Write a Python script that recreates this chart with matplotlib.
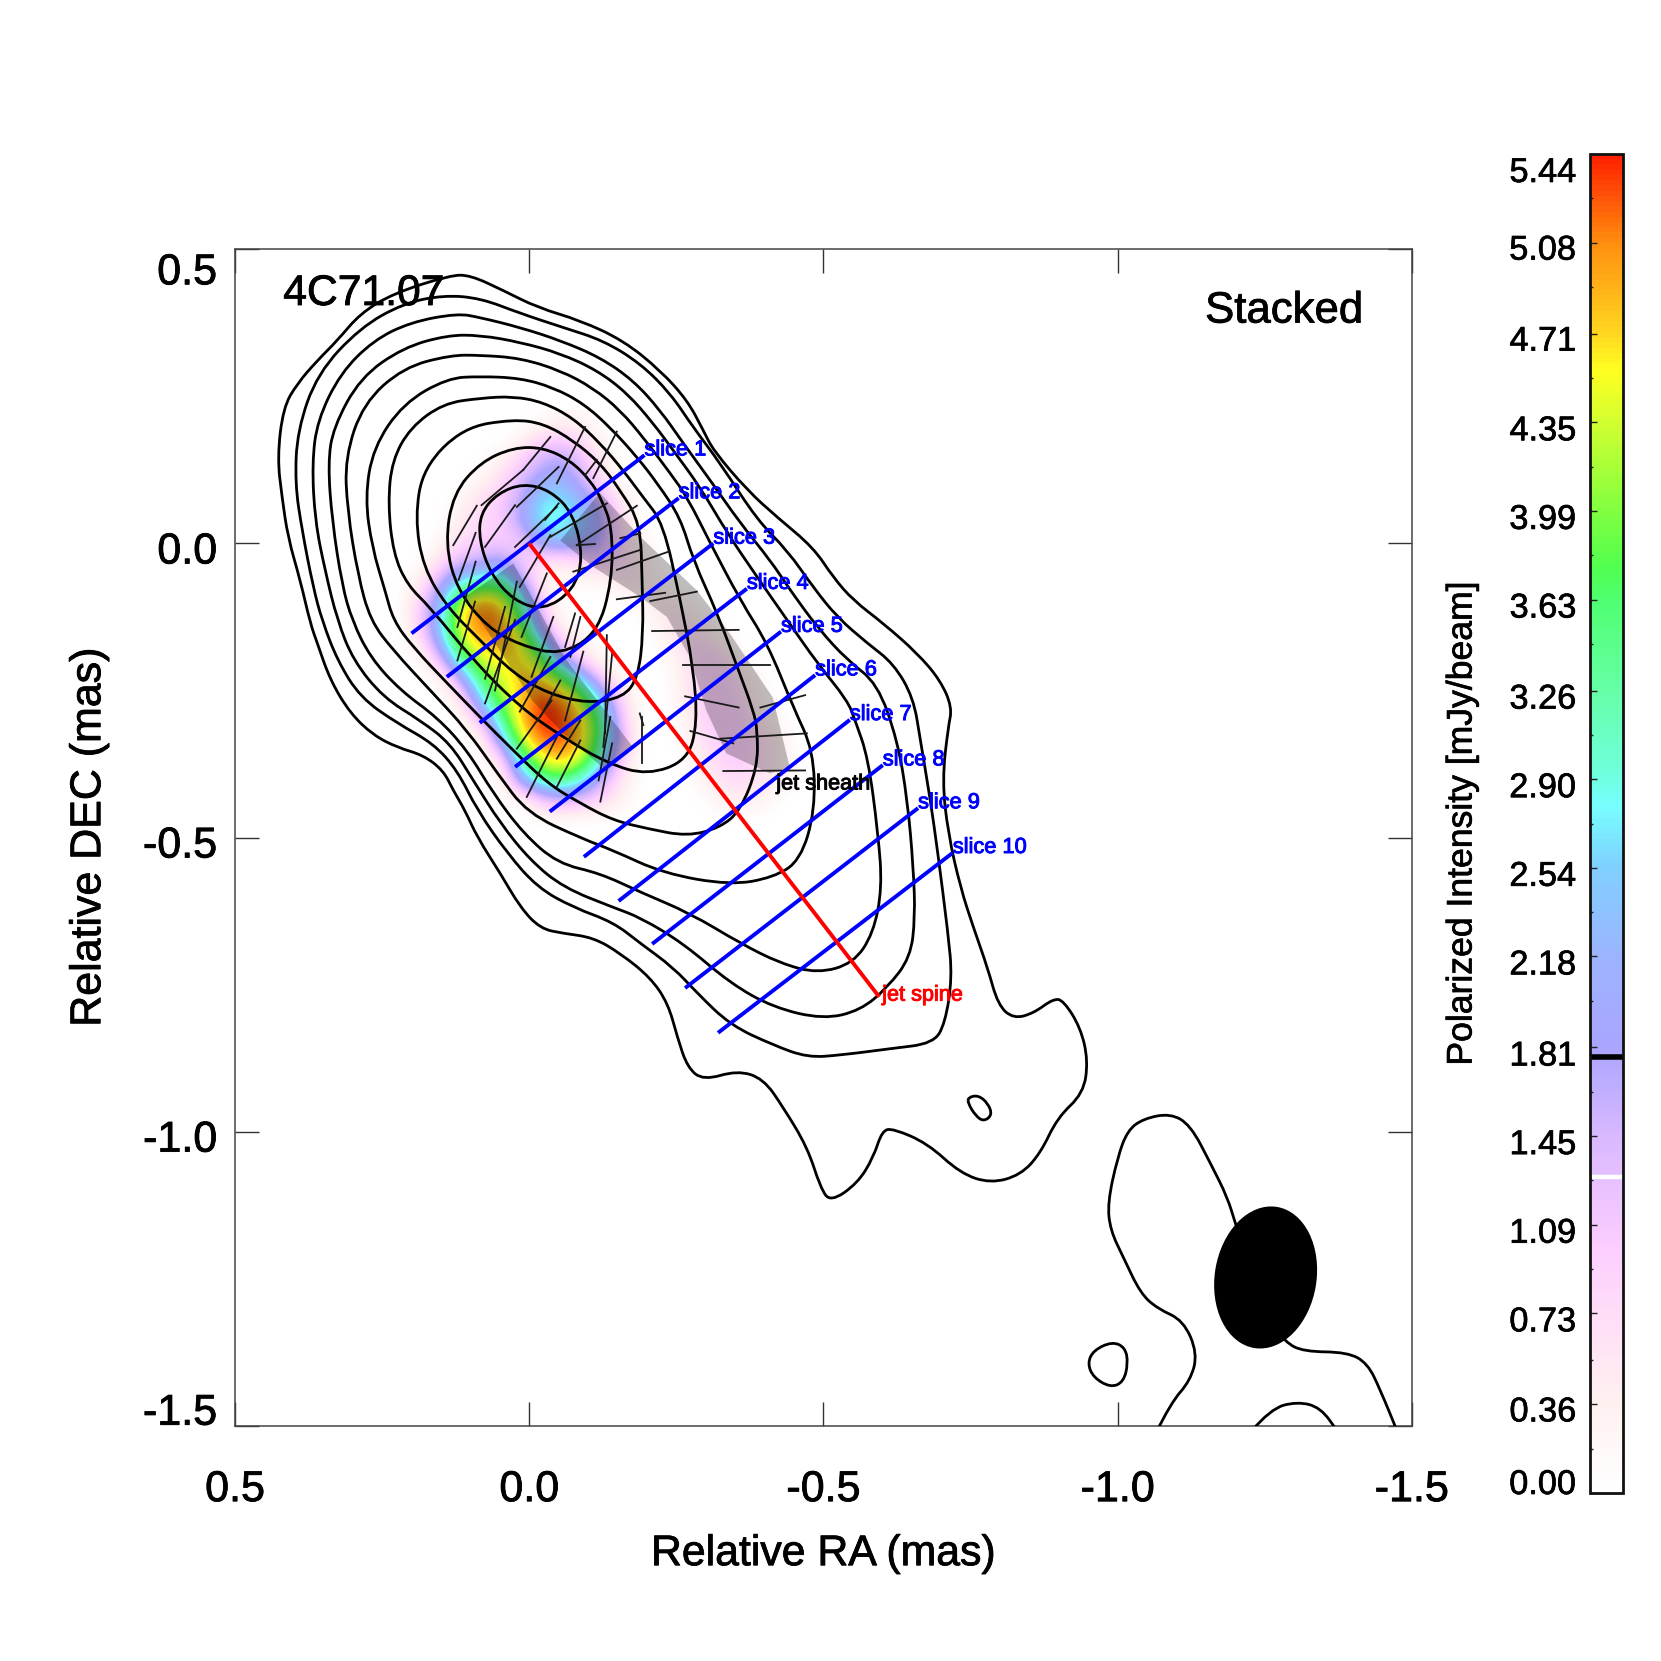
import numpy as np
import matplotlib
matplotlib.use("Agg")
import matplotlib.pyplot as plt
import matplotlib.patheffects as pe
from matplotlib.cm import ScalarMappable
from matplotlib.colors import LinearSegmentedColormap, Normalize
from matplotlib.patches import Ellipse, PathPatch, Polygon
from matplotlib.path import Path
from matplotlib.transforms import ScaledTranslation

plt.rcParams['font.family'] = ['Liberation Sans', 'DejaVu Sans']

# total intensity contours, relative RA / DEC in mas
contour_1 = [(.134,.456),(.231,.425),(.287,.391),(.326,.345),(.360,.311),(.394,.272),(.418,.231),(.428,.146),(.420,.078),(.410,.010),
    (.389,-.063),(.372,-.136),(.360,-.170),(.338,-.233),(.304,-.289),(.265,-.326),(.224,-.347),(.180,-.360),(.146,-.386),(.129,-.420),
    (.109,-.454),(.088,-.500),(.049,-.561),(.015,-.619),(-.019,-.655),(-.058,-.663),(-.109,-.670),(-.155,-.697),(-.206,-.738),(-.236,-.782),
    (-.252,-.840),(-.269,-.891),(-.296,-.913),(-.354,-.896),(-.398,-.910),(-.432,-.959),(-.473,-1.027),(-.495,-1.095),(-.512,-1.120),(-.558,-1.088),
    (-.585,-1.044),(-.600,-.998),(-.619,-.995),(-.677,-1.020),(-.733,-1.071),(-.784,-1.088),(-.835,-1.074),(-.869,-1.037),(-.898,-.976),(-.942,-.935),
    (-.950,-.879),(-.937,-.823),(-.908,-.777),(-.891,-.774),(-.857,-.799),(-.823,-.808),(-.797,-.785),(-.779,-.721),(-.755,-.653),(-.733,-.585),
    (-.712,-.493),(-.702,-.403),(-.712,-.313),(-.719,-.279),(-.699,-.233),(-.660,-.187),(-.602,-.136),(-.551,-.097),(-.517,-.058),(-.483,-.007),
    (-.422,.044),(-.371,.090),(-.313,.158),(-.296,.192),(-.269,.243),(-.223,.294),(-.160,.345),(-.087,.379),(-.014,.401),(.044,.430),(.100,.456)]
contour_2 = [(.146,.422),(.214,.408),(.287,.367),(.360,.289),(.394,.192),(.398,.102),(.386,.022),(.367,-.075),(.352,-.131),(.326,-.199),
    (.287,-.262),(.224,-.306),(.163,-.340),(.122,-.386),(.088,-.454),(.037,-.527),(-.014,-.585),(-.075,-.619),(-.143,-.644),(-.189,-.680),
    (-.245,-.721),(-.286,-.765),(-.342,-.819),(-.415,-.853),(-.473,-.874),(-.529,-.870),(-.614,-.859),(-.687,-.850),(-.707,-.816),(-.719,-.738),
    (-.712,-.663),(-.694,-.522),(-.682,-.437),(-.665,-.335),(-.653,-.262),(-.619,-.204),(-.575,-.170),(-.524,-.126),(-.483,-.075),(-.439,-.012),
    (-.388,.039),(-.325,.136),(-.279,.197),(-.240,.255),(-.189,.306),(-.126,.345),(-.058,.367),(.015,.391),(.083,.417)]
contour_3 = [(.122,.391),(.202,.376),(.265,.345),(.321,.289),(.360,.209),(.369,.136),(.364,.039),(.347,-.046),(.326,-.131),
    (.299,-.199),(.248,-.262),(.185,-.301),(.134,-.340),(.095,-.403),(.049,-.476),(-.002,-.539),(-.058,-.585),(-.143,-.619),(-.189,-.636),
    (-.262,-.680),(-.342,-.748),(-.415,-.789),(-.500,-.809),(-.563,-.794),(-.609,-.755),(-.648,-.704),(-.656,-.636),(-.653,-.551),(-.643,-.437),
    (-.626,-.335),(-.592,-.238),(-.541,-.199),(-.490,-.143),(-.444,-.080),(-.410,-.029),(-.359,.034),(-.308,.107),(-.262,.170),(-.223,.226),
    (-.177,.277),(-.121,.316),(-.053,.345),(.015,.367),(.083,.384)]
contour_4 = [(.139,.354),(.214,.333),(.287,.282),(.333,.197),(.342,.136),(.335,.039),(.318,-.071),(.301,-.131),(.270,-.194),
    (.219,-.250),(.156,-.296),(.105,-.352),(.061,-.425),(.010,-.493),(-.048,-.544),(-.121,-.561),(-.189,-.593),(-.274,-.629),(-.359,-.680),
    (-.427,-.714),(-.490,-.731),(-.551,-.714),(-.585,-.663),(-.600,-.585),(-.593,-.493),(-.576,-.364),(-.554,-.301),(-.541,-.267),(-.490,-.204),
    (-.439,-.131),(-.388,-.058),(-.337,.017),(-.291,.095),(-.245,.158),(-.211,.204),(-.167,.255),(-.116,.294),(-.053,.323),(.015,.342),(.083,.354)]
contour_5 = [(.134,.320),(.214,.299),(.282,.238),(.313,.146),(.309,.056),(.291,-.054),(.270,-.131),(.231,-.182),(.168,-.250),
    (.105,-.318),(.054,-.391),(.003,-.459),(-.090,-.502),(-.143,-.522),(-.228,-.561),(-.342,-.581),(-.415,-.568),(-.461,-.539),(-.486,-.454),
    (-.483,-.352),(-.449,-.279),(-.405,-.170),(-.359,-.097),(-.308,0.0),(-.269,.078),(-.240,.119),(-.194,.180),(-.155,.226),(-.109,.264),
    (-.053,.294),(.015,.315),(.083,.320)]
contour_6 = [(.139,.281),(.214,.238),(.265,.163),(.279,.078),(.267,-.007),(.245,-.080),(.231,-.131),(.197,-.177),(.139,-.238),
    (.083,-.296),(.027,-.352),(-.031,-.408),(-.087,-.442),(-.143,-.471),(-.201,-.485),(-.269,-.498),(-.325,-.483),(-.359,-.454),(-.388,-.381),
    (-.388,-.318),(-.381,-.284),(-.354,-.211),(-.320,-.119),(-.279,-.029),(-.257,.044),(-.218,.102),(-.184,.146),(-.138,.197),(-.092,.238),
    (-.041,.265),(.015,.281),(.083,.284)]
contour_7 = [(.027,.250),(.083,.247),(.146,.238),(.202,.197),(.233,.141),(.240,.068),(.231,-.017),(.207,-.071),(.168,-.109),(.095,-.199),(.015,-.279),
    (-.058,-.330),(-.133,-.374),(-.201,-.394),(-.269,-.369),(-.286,-.306),(-.279,-.211),(-.257,-.097),(-.228,.034),(-.194,.078),(-.160,.124),
    (-.121,.170),(-.075,.213),(-.024,.240)]
contour_8 = [(.027,.211),(.112,.197),(.180,.129),(.194,.044),(.180,-.041),(.139,-.109),(.083,-.165),(.027,-.221),(-.031,-.255),(-.099,-.272),
    (-.160,-.262),(-.185,-.228),(-.194,-.153),(-.192,-.065),(-.189,.034),(-.155,.090),(-.121,.136),(-.075,.175),(-.024,.204)]
contour_9 = [(.027,.163),(-.024,.163),(-.070,.141),(-.104,.107),(-.124,.073),(-.141,.027),(-.141,-.063),(-.116,-.153),(-.053,-.190),(.015,-.173),
    (.071,-.143),(.122,-.080),(.143,0.0),(.129,.085),(.083,.138)]
contour_10 = [(.010,.102),(-.036,.090),(-.075,.051),(-.092,-.024),(-.075,-.080),(-.024,-.114),(.027,-.097),(.066,-.051),(.085,.005),(.083,.051),(.054,.085)]
contour_oval = [(-.746,-.942),(-.763,-.938),(-.780,-.952),(-.787,-.972),(-.772,-.983),(-.758,-.972),(-.746,-.952)]
contour_ring = [(-.991,-1.357),(-1.013,-1.367),(-1.018,-1.394),(-1.010,-1.426),(-.988,-1.435),(-.959,-1.418),(-.949,-1.394),(-.959,-1.372)]
contour_tail = [(-1.066,-1.511),(-1.090,-1.462),(-1.124,-1.423),(-1.136,-1.377),(-1.112,-1.321),(-1.068,-1.301),(-1.039,-1.275),(-1.010,-1.214),
    (-.988,-1.168),(-.983,-1.122),(-1.000,-1.044),(-1.017,-.998),(-1.044,-.978),(-1.090,-.969),(-1.124,-.989),(-1.158,-1.054),(-1.187,-1.112),
    (-1.200,-1.156),(-1.226,-1.231),(-1.255,-1.316),(-1.285,-1.358),(-1.316,-1.374),(-1.391,-1.375),(-1.425,-1.394),(-1.447,-1.440),(-1.476,-1.511)]
contour_arc = [(-1.226,-1.511),(-1.260,-1.471),(-1.306,-1.459),(-1.345,-1.469),(-1.375,-1.511)]

closed_contours = [contour_1, contour_2, contour_3, contour_4, contour_5, contour_6, contour_7, contour_8, contour_9, contour_10, contour_oval, contour_ring]
open_contours = [contour_tail, contour_arc]

# polarization direction sticks: x0, y0, x1, y1
evpa_sticks = [(.129,-.003,.089,.064),(.081,.065,.010,.125),(.010,.125,-.036,.181),(-.047,.102,-.095,.198),(-.109,.111,-.149,.190),(-.095,.116,-.115,.142),
    (.075,-.006,.024,.065),(.021,.062,-.050,.130),(.024,-.006,-.047,.062),(-.027,.040,-.050,.068),(.016,-.074,-.036,.014),(-.036,.011,-.132,.068),
    (-.081,-.003,-.183,.064),(-.081,-.003,-.112,-.001),(-.155,.009,-.189,.017),(-.075,-.048,-.189,-.011),(-.149,-.045,-.237,-.014),(-.149,-.095,-.231,-.084),
    (-.206,-.098,-.285,-.082),(-.209,-.149,-.356,-.147),(-.262,-.206,-.410,-.206),(-.265,-.260,-.356,-.279),(-.393,-.279,-.469,-.258),(-.274,-.319,-.347,-.340),
    (-.325,-.332,-.472,-.323),(-.330,-.387,-.469,-.386),(.120,-.062,.091,.018),(.122,-.142,.091,-.031),(.122,-.199,.092,-.099),(.075,-.230,.041,-.108),
    (.075,-.272,.024,-.130),(.058,-.250,.021,-.065),(.013,-.159,-.030,-.051),(-.004,-.227,-.041,-.125),(.016,-.286,-.036,-.193),(.021,-.349,-.038,-.267),
    (.004,-.431,-.047,-.329),(-.047,-.414,-.087,-.335),(-.047,-.366,-.087,-.301),(-.019,-.295,-.053,-.233),(-.061,-.301,-.092,-.184),(-.070,-.193,-.087,-.125),
    (-.061,-.176,-.078,-.119),(-.121,-.439,-.141,-.340),(-.118,-.403,-.138,-.295),(-.126,-.346,-.141,-.187),(-.129,-.323,-.132,-.156),(-.192,-.374,-.192,-.295),
    (-.188,-.289,-.194,-.309)]

# blue slices across the jet: start x, start y, end x, end y
slice_names = ['slice 1','slice 2','slice 3','slice 4','slice 5','slice 6','slice 7','slice 8','slice 9','slice 10']
slice_x0 = [.200,.140,.084,.024,-.035,-.093,-.152,-.209,-.265,-.321]
slice_y0 = [-.153,-.227,-.305,-.380,-.456,-.533,-.608,-.681,-.756,-.832]
slice_x1 = [-.196,-.254,-.313,-.370,-.428,-.486,-.545,-.601,-.661,-.720]
slice_y1 = [.150,.077,.000,-.077,-.150,-.224,-.300,-.377,-.450,-.526]
spine_x = [0.0,-.595]
spine_y = [0.0,-.771]

# polarized intensity in mJy/beam, read on a coarse grid
pol_extent = (.2366,-.4774,-.4872,.2268)
pol_rows = [
    [0,0,0,0,0,0,0,0,.3,.2,0,0,0,0,0,0,0,0,0,0,0],
    [0,0,0,0,0,0,.2,.9,1.0,.8,.2,0,0,0,0,0,0,0,0,0,0],
    [0,0,0,0,0,.3,.9,1.5,1.8,1.3,.5,0,0,0,0,0,0,0,0,0,0],
    [0,0,0,0,.2,.7,1.4,2.0,2.2,1.6,.7,0,0,0,0,0,0,0,0,0,0],
    [0,0,0,.2,.7,1.0,1.6,2.7,2.8,2.3,1.5,.5,0,0,0,0,0,0,0,0,0],
    [0,0,0,.4,.8,.9,1.9,2.8,2.9,2.5,1.9,.8,0,0,0,0,0,0,0,0,0],
    [0,0,.1,.7,.9,1.0,1.0,2.2,2.7,2.2,1.8,.8,.2,0,0,0,0,0,0,0,0],
    [0,0,.6,1.3,1.5,1.9,1.0,.7,.5,.9,1.3,.8,.5,0,0,0,0,0,0,0,0],
    [0,.3,1.5,2.6,3.1,3.3,1.9,.3,0,.2,.1,.6,.5,.2,0,0,0,0,0,0,0],
    [0,.8,2.3,4.2,4.9,4.6,3.3,1.0,0,0,0,0,.3,.5,.3,0,0,0,0,0,0],
    [0,1.0,2.6,4.7,5.3,5.2,3.8,1.5,.1,0,0,0,0,.4,.7,.3,0,0,0,0,0],
    [0,.5,2.4,4.2,4.9,5.0,4.7,2.8,.8,.2,0,0,0,.1,.7,.8,.3,0,0,0,0],
    [0,0,1.2,3.4,4.4,4.6,4.7,4.2,2.2,.9,.1,0,0,0,.4,.9,.9,.2,0,0,0],
    [0,0,0,1.5,3.6,4.4,4.8,4.8,4.2,2.9,1.2,.1,0,0,.3,.9,1.0,.7,.1,0,0],
    [0,0,0,.4,2.6,4.0,4.8,5.4,5.2,4.4,2.8,.9,0,0,.3,.9,1.0,.8,.2,0,0],
    [0,0,0,0,1.0,3.3,4.8,5.44,5.44,4.8,3.6,1.2,0,0,0,.9,1.0,1.0,.5,.1,0],
    [0,0,0,0,0,2.2,4.3,5.2,5.3,4.9,3.5,1.6,0,0,.1,.6,1.0,1.0,.8,.3,0],
    [0,0,0,0,0,.5,3.2,4.4,4.9,4.4,3.1,.9,0,0,0,.4,.9,1.0,.7,.4,0],
    [0,0,0,0,0,0,2.1,3.3,3.6,3.0,1.6,.6,0,0,0,.2,.6,.8,.6,.3,0],
    [0,0,0,0,0,0,0,1.0,1.5,1.2,.8,.3,0,0,0,0,.3,.4,.3,0,0],
    [0,0,0,0,0,0,0,0,0,0,0,0,0,0,0,0,0,0,0,0,0],
]

# the two grey jet sheath bands laid over the image
sheath_left = [(.027,-.034),(-.063,-.198),(-.177,-.347),(-.126,-.382),(-.058,-.323),(-.005,-.267),(.061,-.165),(.109,-.091)]
sheath_right = [(-.120,.086),(-.189,.011),(-.285,-.080),(-.341,-.153),(-.414,-.262),(-.443,-.381),(-.409,-.391),(-.335,-.357),
    (-.301,-.284),(-.273,-.193),(-.234,-.125),(-.189,-.091),(-.109,-.040),(-.053,.005)]

cbar_colors = ['#ffffff','#fff0f0','#ffdcf8','#fbcdff','#d8b8ff','#aaa5ff','#9cb4ff','#80d0ff','#77ffff','#70ffe0','#66ffa8','#50ff70','#50ff50',
    '#80ff40','#d0ff30','#ffff20','#ffd820','#ff9010','#ff2000']
cbar_stops = [0.0,.36,.73,1.0,1.45,1.81,2.18,2.54,2.80,2.90,3.26,3.63,3.76,3.99,4.35,4.57,4.71,5.08,5.44]
cbar_ticks = [0.00,0.36,0.73,1.09,1.45,1.81,2.18,2.54,2.90,3.26,3.63,3.99,4.35,4.71,5.08,5.44]
cbar_minor = [.18,.54,.91,1.27,1.63,2.0,2.36,2.72,3.08,3.45,3.81,4.17,4.53,4.9,5.26]
cbar_black_level = 1.77
cbar_white_level = 1.284
vmax = 5.44

xticks = [0.5,0.0,-0.5,-1.0,-1.5]
yticks = [0.5,0.0,-0.5,-1.0,-1.5]


def smooth_path(pts, closed):
    # read points are used as quadratic control points, so the curve stays round
    pts = np.array(pts, dtype=float)
    if closed:
        start = (pts[-1] + pts[0]) / 2
        verts = [start]
        codes = [Path.MOVETO]
        for i in range(len(pts)):
            nxt = pts[(i + 1) % len(pts)]
            verts += [pts[i], (pts[i] + nxt) / 2]
            codes += [Path.CURVE3, Path.CURVE3]
    else:
        verts = [pts[0]]
        codes = [Path.MOVETO]
        for i in range(1, len(pts) - 1):
            verts += [pts[i], (pts[i] + pts[i + 1]) / 2]
            codes += [Path.CURVE3, Path.CURVE3]
        verts.append(pts[-1])
        codes.append(Path.LINETO)
    return Path(verts, codes)


fig = plt.figure(figsize=(16.61, 16.61), dpi=100)
W = 1661.0
ax = fig.add_axes([235 / W, (W - 1425.7) / W, 1176.7 / W, 1176.4 / W])

cmap = LinearSegmentedColormap.from_list('polint', [(s / vmax, c) for s, c in zip(cbar_stops, cbar_colors)], N=256)
norm = Normalize(0, vmax)

ax.imshow(np.array(pol_rows), extent=pol_extent, origin='upper', cmap=cmap, norm=norm,
          interpolation='bicubic', aspect='auto', zorder=1)
ax.add_patch(Polygon(sheath_left, closed=True, fc='black', ec='none', alpha=0.25, zorder=2))
ax.add_patch(Polygon(sheath_right, closed=True, fc='black', ec='none', alpha=0.25, zorder=2))

for c in closed_contours:
    ax.add_patch(PathPatch(smooth_path(c, True), fc='none', ec='black', lw=2.0, zorder=3))
for c in open_contours:
    ax.add_patch(PathPatch(smooth_path(c, False), fc='none', ec='black', lw=2.0, zorder=3))

for s in evpa_sticks:
    ax.plot([s[0], s[2]], [s[1], s[3]], color='#1a1a1a', lw=1.3, zorder=4)

ax.add_patch(Ellipse((-1.2517, -1.248), 0.243, 0.173, angle=99, fc='black', ec='none', zorder=5))

for i in range(len(slice_names)):
    ax.plot([slice_x0[i], slice_x1[i]], [slice_y0[i], slice_y1[i]], color='#0000ff', lw=2.8, zorder=6, solid_capstyle='butt')
    ax.text(slice_x1[i], slice_y1[i] + 0.009, slice_names[i], color='#0000ff', fontsize=15.7, ha='left', va='center',
            zorder=7, path_effects=[pe.withStroke(linewidth=0.7, foreground='#0000ff')])
ax.plot(spine_x, spine_y, color='#ff0000', lw=2.8, zorder=6, solid_capstyle='butt')
ax.text(-.600, -.768, 'jet spine', color='#ff0000', fontsize=15.6, ha='left', va='center', zorder=7,
        path_effects=[pe.withStroke(linewidth=0.7, foreground='#ff0000')])
ax.text(-.420, -.409, 'jet sheath', color='black', fontsize=15.6, ha='left', va='center', zorder=7,
        path_effects=[pe.withStroke(linewidth=0.7, foreground='black')])
heavy = [pe.withStroke(linewidth=0.6, foreground='black')]
ax.text(.418, .424, '4C71.07', color='black', fontsize=30.7, ha='left', va='center', zorder=7, path_effects=heavy)
ax.text(-1.418, .395, 'Stacked', color='black', fontsize=31.5, ha='right', va='center', zorder=7, path_effects=heavy)

ax.set_xlim(0.5, -1.5)
ax.set_ylim(-1.5, 0.5)
ax.set_xticks(xticks)
ax.set_yticks(yticks)
ax.set_xticklabels(['%.1f' % v for v in xticks])
ax.set_yticklabels(['%.1f' % v for v in yticks])
ax.tick_params(axis='both', which='major', direction='in', length=17, width=1.0, color='#333333',
               top=True, right=True, labelsize=31)
ax.tick_params(axis='x', pad=32)
ax.tick_params(axis='y', pad=13)
for sp in ax.spines.values():
    sp.set_linewidth(1.1)
    sp.set_color('#444444')

# IDL style labels sit off their ticks
y_shift_px = [-24, -9, -9, -9, 12]
for lab, dy in zip(ax.get_yticklabels(), y_shift_px):
    lab.set_verticalalignment('center')
    lab.set_transform(lab.get_transform() + ScaledTranslation(0, dy / 100.0, fig.dpi_scale_trans))
for lab in ax.get_xticklabels() + ax.get_yticklabels():
    lab.set_path_effects(heavy)

ax.set_xlabel('Relative RA (mas)', fontsize=30.8, va='center', path_effects=heavy)
ax.set_ylabel('Relative DEC (mas)', fontsize=30.9, va='center', path_effects=heavy)
ax.xaxis.set_label_coords(0.5, -0.1092)
ax.yaxis.set_label_coords(-0.1239, 0.5)

# colour bar
cax = fig.add_axes([1590 / W, (W - 1493) / W, 33 / W, 1339 / W])
cb = fig.colorbar(ScalarMappable(norm=norm, cmap=cmap), cax=cax)
cb.outline.set_linewidth(2.0)
cb.outline.set_edgecolor('#111111')
cax.yaxis.set_ticks_position('left')
cax.yaxis.set_label_position('left')
cb.set_ticks(cbar_ticks)
cb.set_ticklabels(['%.2f' % v for v in cbar_ticks])
cax.yaxis.set_ticks(cbar_minor, minor=True)
cax.tick_params(axis='y', which='major', direction='in', length=5, width=1.0, color='#222222', labelsize=24.7, pad=10)
cax.tick_params(axis='y', which='minor', direction='in', length=2.5, width=1.0, color='#222222')
cax.axhline(cbar_black_level, color='black', lw=4.0)
cax.axhline(cbar_white_level, color='white', lw=3.2)

heavy_small = [pe.withStroke(linewidth=0.5, foreground='black')]
cb_shift_px = [11, -5, -6, -6, -6, -6, -6, -6, -6, -6, -6, -6, -6, -5, -5, -16]
for lab, dy in zip(cax.get_yticklabels(), cb_shift_px):
    lab.set_transform(lab.get_transform() + ScaledTranslation(0, dy / 100.0, fig.dpi_scale_trans))
    lab.set_path_effects(heavy_small)

cax.set_ylabel('Polarized Intensity [mJy/beam]', fontsize=25.6, va='center', path_effects=heavy_small)
cax.yaxis.set_label_coords((1462 - 1590) / 33.0, (1493 - 824) / 1339.0)

fig.savefig('out.png', dpi=100, facecolor='white')
